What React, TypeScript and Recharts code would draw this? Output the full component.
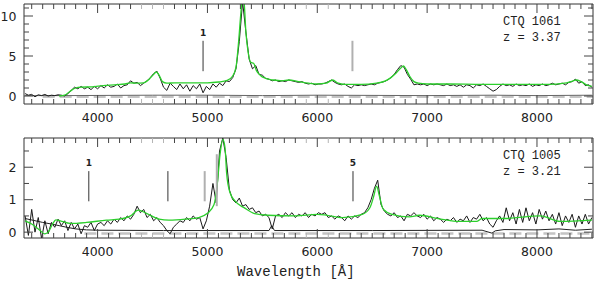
import React from "react";
import { ComposedChart, Line, XAxis, YAxis, ReferenceLine } from "recharts";

// wavelength axis
const X_DOMAIN = [3330, 8510];
const X_TICKS = [
  3400, 3500, 3600, 3700, 3800, 3900, 4000, 4100, 4200, 4300, 4400, 4500, 4600, 4700, 4800, 4900,
  5000, 5100, 5200, 5300, 5400, 5500, 5600, 5700, 5800, 5900, 6000, 6100, 6200, 6300, 6400, 6500,
  6600, 6700, 6800, 6900, 7000, 7100, 7200, 7300, 7400, 7500, 7600, 7700, 7800, 7900, 8000, 8100,
  8200, 8300, 8400, 8500,
];
const GREY_TICKS = [4400, 4500, 4600, 5900, 6100];

// observed spectra sampled every 30 A starting at 3340 A
const OBS_START = 3340;
const OBS_STEP = 30;

// CTQ 1061
const ctq1061Obs = [
  0.3, 0.1, 0.2, -0.1, 0.15, 0.05, 0.2, 0.0, 0.1, 0.05, // 3340
  0.15, 0.1, 0.0, 0.3, 0.7, 1.1, 0.9, 1.2, 0.9, 1.1, // 3640
  0.8, 1.2, 0.9, 1.3, 1.0, 1.4, 1.1, 1.2, 1.5, 1.0, // 3940
  1.3, 1.4, 1.9, 1.6, 1.7, 1.3, 1.6, 1.9, 2.3, 2.8, // 4240
  3.1, 2.2, 1.1, 0.7, 1.6, 1.2, 0.8, 1.5, 0.9, 1.4, // 4540
  0.6, 1.3, 0.9, 1.5, 0.4, 1.2, 0.8, 1.5, 1.1, 1.6, // 4840
  1.3, 1.9, 1.8, 2.3, 3.4, 6.8, 11.8, 8.0, 4.6, 3.4, // 5140
  3.8, 2.7, 2.6, 2.2, 2.1, 1.9, 2.0, 1.8, 1.9, 1.8, // 5440
  2.0, 1.9, 1.8, 1.7, 1.8, 1.6, 1.5, 1.6, 1.4, 1.5, // 5740
  1.5, 1.6, 1.8, 2.0, 1.7, 1.5, 1.4, 1.5, 1.2, 1.0, // 6040
  1.4, 1.3, 1.4, 1.3, 1.4, 1.5, 1.4, 1.6, 1.7, 1.8, // 6340
  2.0, 2.3, 2.7, 3.3, 3.8, 3.6, 2.7, 2.1, 1.4, 1.5, // 6640
  1.4, 1.5, 1.3, 1.5, 1.4, 1.5, 1.4, 1.3, 1.5, 1.3, // 6940
  1.4, 1.2, 1.4, 1.1, 1.4, 1.3, 1.0, 1.4, 1.3, 1.5, // 7240
  1.2, 0.9, 0.6, 0.8, 1.2, 1.5, 1.3, 1.4, 1.2, 1.5, // 7540
  1.3, 1.4, 1.3, 1.5, 1.2, 1.4, 1.3, 1.5, 1.3, 1.4, // 7840
  1.6, 1.4, 1.5, 1.6, 1.4, 1.7, 1.8, 2.1, 1.6, 1.8, // 8140
  1.3, 1.4, 1.1, // 8440
];
const ctq1061ModelWave = [
  3650, 3700, 3750, 3800, 3850, 3950, 4050, 4150, 4250, 4300, 4350, 4420, 4470, 4510, 4535, 4560,
  4590, 4630, 4700, 4800, 4900, 5000, 5100, 5180, 5230, 5260, 5285, 5305, 5320, 5335, 5350, 5370,
  5395, 5420, 5445, 5480, 5530, 5600, 5680, 5740, 5830, 5920, 6000, 6080, 6140, 6190, 6250, 6400,
  6540, 6620, 6670, 6720, 6760, 6785, 6810, 6840, 6880, 6920, 7000, 7200, 7500, 7800, 8100, 8250,
  8330, 8360, 8400, 8450, 8500,
];
const ctq1061ModelFlux = [
  0.0, 0.1, 0.6, 1.0, 1.1, 1.15, 1.3, 1.4, 1.5, 1.65, 1.6, 1.65, 2.1, 2.7, 3.0, 2.6,
  1.8, 1.6, 1.65, 1.65, 1.65, 1.65, 1.75, 1.95, 2.5, 3.6, 7.0, 10.5, 12.5, 11.5, 8.0, 5.5,
  4.2, 4.1, 3.2, 2.6, 2.2, 2.0, 1.9, 2.0, 1.8, 1.6, 1.5, 1.6, 2.0, 1.6, 1.45, 1.45,
  1.6, 1.9, 2.3, 2.9, 3.5, 3.75, 3.3, 2.5, 1.8, 1.6, 1.5, 1.5, 1.45, 1.45, 1.45, 1.6,
  1.9, 2.0, 1.8, 1.4, 1.2,
];
const ctq1061ErrWave = [3340, 3700, 4500, 5000, 5500, 6000, 7000, 7600, 8000, 8500];
const ctq1061ErrFlux = [0.05, 0.05, 0.1, 0.1, 0.05, 0.1, 0.05, 0.1, 0.05, 0.1];
const ctq1061SkyWave = [3500, 8510];
const ctq1061SkyFlux = [-0.08, -0.08];
const ctq1061MarkWave = [4960, 6320];
const ctq1061MarkLabel = ["1", ""];
const ctq1061MarkKind = ["line", "sky"];
const ctq1061MarkRange = [
  [3.1, 6.9],
  [3.1, 6.9],
];

// CTQ 1005
const ctq1005Obs = [
  0.5, -0.1, 0.7, 0.0, 0.45, -0.2, 0.35, -0.05, 0.3, 0.15, // 3340
  0.4, 0.2, 0.35, 0.05, 0.3, 0.1, 0.25, -0.05, 0.2, 0.15, // 3640
  0.3, 0.05, 0.25, 0.3, 0.2, 0.35, 0.25, 0.4, 0.3, 0.45, // 3940
  0.35, 0.5, 0.4, 0.55, 0.8, 0.6, 0.7, 0.45, 0.55, 0.35, // 4240
  0.45, 0.3, 0.2, 0.05, -0.05, 0.15, 0.25, 0.35, 0.3, 0.45, // 4540
  0.35, 0.5, 0.4, 0.45, 0.1, 0.35, 0.8, 1.5, 0.9, 2.5, // 4840
  2.9, 2.3, 1.3, 1.0, 0.9, 1.05, 0.8, 0.85, 0.7, 0.75, // 5140
  0.6, 0.65, 0.5, 0.55, 0.45, 0.1, 0.5, 0.55, 0.45, 0.6, // 5440
  0.5, 0.6, 0.45, 0.55, 0.5, 0.6, 0.45, 0.55, 0.5, 0.6, // 5740
  0.55, 0.6, 0.45, 0.5, 0.4, 0.5, 0.45, 0.35, 0.5, 0.4, // 6040
  0.5, 0.45, 0.55, 0.6, 0.75, 1.0, 1.35, 1.6, 0.85, 0.65, // 6340
  0.55, 0.5, 0.6, 0.45, 0.5, 0.35, 0.55, 0.5, 0.6, 0.5, // 6640
  0.45, 0.55, 0.4, 0.5, 0.35, 0.45, 0.4, 0.3, 0.4, 0.35, // 6940
  0.45, 0.3, 0.4, 0.35, 0.5, 0.3, 0.45, 0.4, 0.55, 0.35, // 7240
  0.45, 0.25, 0.15, 0.35, 0.5, 0.3, 0.75, 0.35, 0.6, 0.25, // 7540
  0.7, 0.3, 0.75, 0.35, 0.6, 0.25, 0.7, 0.4, 0.65, 0.35, // 7840
  0.55, 0.25, 0.6, 0.2, 0.5, 0.3, 0.55, 0.15, 0.5, 0.25, // 8140
  0.55, 0.25, 0.45, // 8440
];
const ctq1005ModelWave = [
  3340, 3400, 3460, 3520, 3550, 3590, 3620, 3660, 3750, 3900, 4080, 4200, 4300, 4370, 4450, 4560,
  4650, 4800, 4920, 5000, 5060, 5090, 5115, 5140, 5160, 5175, 5205, 5250, 5340, 5430, 5550, 5800,
  6000, 6090, 6230, 6410, 6480, 6515, 6540, 6565, 6600, 6680, 6840, 6930, 7100, 7300, 7450, 7500,
  7700, 8030, 8210, 8500,
];
const ctq1005ModelFlux = [
  0.35, 0.25, 0.1, -0.05, 0.0, 0.25, 0.38, 0.35, 0.27, 0.3, 0.37, 0.4, 0.5, 0.68, 0.57, 0.4,
  0.37, 0.4, 0.45, 0.58, 0.85, 1.5, 2.4, 2.86, 2.6, 1.8, 1.22, 0.96, 0.74, 0.57, 0.52, 0.5,
  0.55, 0.52, 0.45, 0.55, 0.76, 1.12, 1.42, 1.12, 0.71, 0.55, 0.47, 0.52, 0.42, 0.33, 0.33, 0.42,
  0.42, 0.5, 0.33, 0.37,
];
const ctq1005ErrWave = [
  3340, 3420, 3500, 3580, 3650, 3720, 3800, 3900, 4000, 4600, 5000, 5560, 5585, 5610, 6500, 7500,
  7590, 7620, 7700, 8000, 8200, 8350, 8500,
];
const ctq1005ErrFlux = [
  0.42, 0.36, 0.3, 0.25, 0.2, 0.15, 0.1, 0.07, 0.06, 0.05, 0.05, 0.05, 0.2, 0.05, 0.05, 0.06,
  -0.03, 0.04, 0.08, 0.07, 0.1, 0.06, 0.09,
];
const ctq1005SkyWave = [3880, 8510];
const ctq1005SkyFlux = [-0.04, -0.04];
const ctq1005MarkWave = [3920, 4640, 4975, 5085, 6325];
const ctq1005MarkLabel = ["1", "", "", "", "5"];
const ctq1005MarkKind = ["line", "line", "sky", "sky", "line"];
const ctq1005MarkRange = [
  [0.95, 1.88],
  [0.95, 1.88],
  [0.95, 1.88],
  [0.8, 2.4],
  [0.95, 1.88],
];

const TOP_Y_DOMAIN = [-1, 11.5];
const TOP_Y_TICKS = [0, 1, 2, 3, 4, 5, 6, 7, 8, 9, 10, 11];
const BOT_Y_DOMAIN = [-0.18, 2.9];
const BOT_Y_TICKS = [0, 0.5, 1, 1.5, 2, 2.5];

const toPoints = (w: number[], f: number[]) => w.map((x, i) => ({ w: x, f: f[i] }));
const obsPoints = (f: number[]) => f.map((v, i) => ({ w: OBS_START + OBS_STEP * i, f: v }));

const AXIS_COLOR = "#333";
const TICK_FONT = "DejaVu Sans";

function xTick(side: "top" | "bottom") {
  return (p: any) => {
    const v = p.payload.value;
    const major = v % 1000 === 0;
    const len = major ? 9 : 5;
    const dir = side === "bottom" ? -1 : 1;
    const stroke = GREY_TICKS.includes(v) ? "#b4b4b4" : "#444";
    return (
      <g>
        <line x1={p.x} x2={p.x} y1={p.y} y2={p.y + dir * len} stroke={stroke} />
        {side === "bottom" && major && (
          <text x={p.x} y={p.y + 18} textAnchor="middle" fontFamily={TICK_FONT} fontSize={12.5} fill="#222">
            {v}
          </text>
        )}
      </g>
    );
  };
}

function yTick(side: "left" | "right", isMajor: (v: number) => boolean) {
  return (p: any) => {
    const v = p.payload.value;
    const major = isMajor(v);
    const len = major ? 9 : 5;
    const dir = side === "left" ? 1 : -1;
    return (
      <g>
        <line x1={p.x} x2={p.x + dir * len} y1={p.y} y2={p.y} stroke="#444" />
        {side === "left" && major && (
          <text x={p.x - 7.5} y={p.y + 4.5} textAnchor="end" fontFamily={TICK_FONT} fontSize={12.5} fill="#222">
            {v}
          </text>
        )}
      </g>
    );
  };
}

type PanelProps = {
  obs: number[];
  modelWave: number[];
  modelFlux: number[];
  errWave: number[];
  errFlux: number[];
  skyWave: number[];
  skyFlux: number[];
  markWave: number[];
  markLabel: string[];
  markKind: string[];
  markRange: number[][];
  yDomain: number[];
  yTicks: number[];
  isMajor: (v: number) => boolean;
  errColor: string;
};

function SpectrumPanel(props: PanelProps) {
  const ids = { xAxisId: "b", yAxisId: "l" };
  return (
    <ComposedChart width={597} height={130} margin={{ top: 0, right: 0, bottom: 0, left: 0 }}>
      <XAxis
        xAxisId="b"
        type="number"
        dataKey="w"
        domain={X_DOMAIN}
        allowDataOverflow
        ticks={X_TICKS}
        interval={0}
        height={26}
        tickSize={0}
        tickMargin={0}
        tickLine={false}
        axisLine={{ stroke: AXIS_COLOR }}
        tick={xTick("bottom")}
      />
      <XAxis
        xAxisId="t"
        orientation="top"
        type="number"
        dataKey="w"
        domain={X_DOMAIN}
        allowDataOverflow
        ticks={X_TICKS}
        interval={0}
        height={4}
        tickSize={0}
        tickMargin={0}
        tickLine={false}
        axisLine={{ stroke: AXIS_COLOR }}
        tick={xTick("top")}
      />
      <YAxis
        yAxisId="l"
        type="number"
        domain={props.yDomain}
        allowDataOverflow
        ticks={props.yTicks}
        interval={0}
        width={24}
        tickSize={0}
        tickMargin={0}
        tickLine={false}
        axisLine={{ stroke: AXIS_COLOR }}
        tick={yTick("left", props.isMajor)}
      />
      <YAxis
        yAxisId="r"
        orientation="right"
        type="number"
        domain={props.yDomain}
        allowDataOverflow
        ticks={props.yTicks}
        interval={0}
        width={4}
        tickSize={0}
        tickMargin={0}
        tickLine={false}
        axisLine={{ stroke: AXIS_COLOR }}
        tick={yTick("right", props.isMajor)}
      />
      <Line
        {...ids}
        data={toPoints(props.skyWave, props.skyFlux)}
        dataKey="f"
        stroke="#c4c4c4"
        strokeWidth={2.5}
        strokeDasharray="12 5"
        dot={false}
        isAnimationActive={false}
      />
      <Line
        {...ids}
        data={toPoints(props.errWave, props.errFlux)}
        dataKey="f"
        stroke={props.errColor}
        strokeWidth={1}
        dot={false}
        isAnimationActive={false}
      />
      <Line
        {...ids}
        data={obsPoints(props.obs)}
        dataKey="f"
        stroke="#1a1a1a"
        strokeWidth={1}
        dot={false}
        isAnimationActive={false}
      />
      <Line
        {...ids}
        type="monotone"
        data={toPoints(props.modelWave, props.modelFlux)}
        dataKey="f"
        stroke="#2ccf2c"
        strokeWidth={1.3}
        dot={false}
        isAnimationActive={false}
      />
      {props.markWave.map((w, i) => (
        <ReferenceLine
          key={i}
          {...ids}
          segment={[
            { x: w, y: props.markRange[i][0] },
            { x: w, y: props.markRange[i][1] },
          ]}
          stroke={props.markKind[i] === "sky" ? "#b0b0b0" : "#333"}
          strokeWidth={props.markKind[i] === "sky" ? 2 : 1}
          label={{
            value: props.markLabel[i],
            position: "top",
            fontSize: 9,
            fontWeight: "bold",
            fill: "#222",
            fontFamily: TICK_FONT,
          }}
        />
      ))}
    </ComposedChart>
  );
}

export default function App() {
  const mono = "Liberation Mono";
  return (
    <div style={{ position: "absolute", left: 0, top: 0, width: 597, height: 282, background: "#fff" }}>
      <div style={{ position: "absolute", left: 0, top: 0 }}>
        <SpectrumPanel
          obs={ctq1061Obs}
          modelWave={ctq1061ModelWave}
          modelFlux={ctq1061ModelFlux}
          errWave={ctq1061ErrWave}
          errFlux={ctq1061ErrFlux}
          skyWave={ctq1061SkyWave}
          skyFlux={ctq1061SkyFlux}
          markWave={ctq1061MarkWave}
          markLabel={ctq1061MarkLabel}
          markKind={ctq1061MarkKind}
          markRange={ctq1061MarkRange}
          yDomain={TOP_Y_DOMAIN}
          yTicks={TOP_Y_TICKS}
          isMajor={(v) => v % 5 === 0}
          errColor="#666"
        />
      </div>
      <div style={{ position: "absolute", left: 0, top: 134 }}>
        <SpectrumPanel
          obs={ctq1005Obs}
          modelWave={ctq1005ModelWave}
          modelFlux={ctq1005ModelFlux}
          errWave={ctq1005ErrWave}
          errFlux={ctq1005ErrFlux}
          skyWave={ctq1005SkyWave}
          skyFlux={ctq1005SkyFlux}
          markWave={ctq1005MarkWave}
          markLabel={ctq1005MarkLabel}
          markKind={ctq1005MarkKind}
          markRange={ctq1005MarkRange}
          yDomain={BOT_Y_DOMAIN}
          yTicks={BOT_Y_TICKS}
          isMajor={(v) => Number.isInteger(v)}
          errColor="#222"
        />
      </div>
      <svg width={597} height={282} style={{ position: "absolute", left: 0, top: 0, pointerEvents: "none" }}>
        <g fontFamily={mono} fontSize={12} fill="#222">
          <text x={503} y={25}>CTQ 1061</text>
          <text x={503} y={41}>z = 3.37</text>
          <text x={503} y={159}>CTQ 1005</text>
          <text x={503} y={175}>z = 3.21</text>
        </g>
        <text x={237} y={276} fontFamily={mono} fontSize={14} fill="#222">
          Wavelength [Å]
        </text>
      </svg>
    </div>
  );
}
